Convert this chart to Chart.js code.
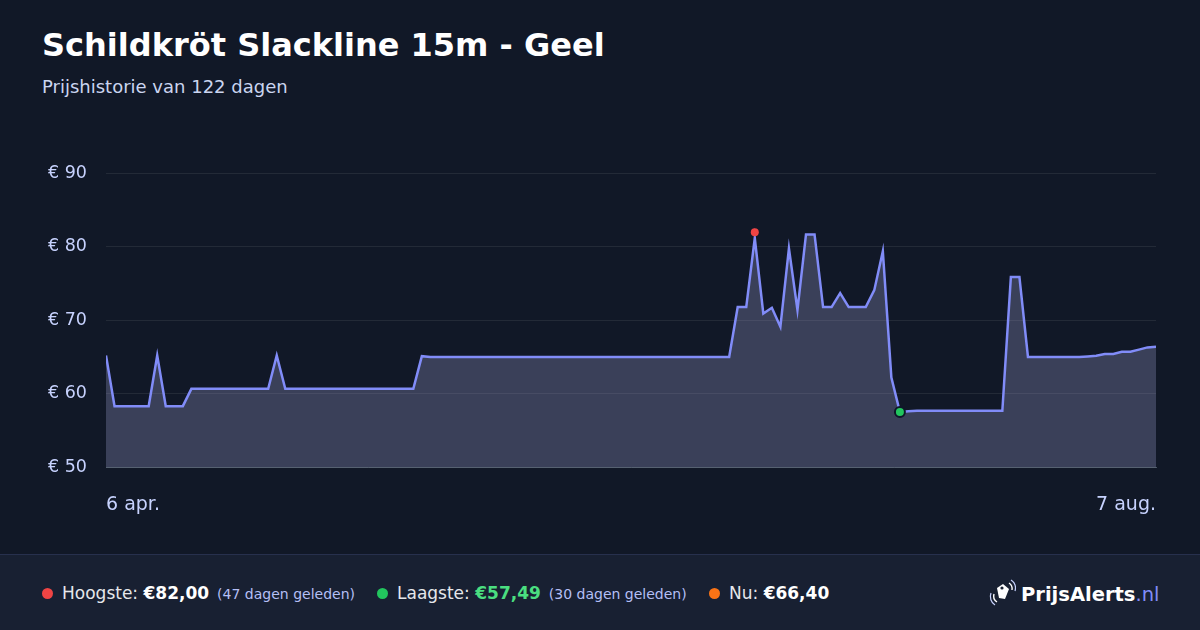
<!DOCTYPE html>
<html>
<head>
<meta charset="utf-8">
<script src="https://cdn.jsdelivr.net/npm/chart.js@4/dist/chart.umd.min.js"></script>
<style>
  html, body { margin: 0; padding: 0; }
  body {
    width: 1200px; height: 630px; overflow: hidden; position: relative;
    background: #111827; font-family: "DejaVu Sans", sans-serif;
  }
  .title { position: absolute; left: 42px; top: 26px; font-size: 32px; font-weight: bold; color: #fff; }
  .sub { position: absolute; left: 42px; top: 76px; font-size: 18px; color: #cbd5f0; }
  .chart-wrap { position: absolute; left: 40px; top: 144px; width: 1135px; height: 383px; }
  .footer {
    position: absolute; left: 0; top: 554px; width: 1200px; height: 76px;
    background: #182032; border-top: 1px solid #27304d; box-sizing: border-box;
  }
  .stat { position: absolute; top: 28px; font-size: 17px; color: #e5e7eb; white-space: nowrap; }
  .stat .dot { display: inline-block; width: 11px; height: 11px; border-radius: 50%; margin-right: 9px; vertical-align: 0px; }
  .stat b { color: #fff; }
  .stat small { font-size: 14px; color: #b4bff5; margin-left: 8px; }
  .logo { position: absolute; left: 988px; top: 24px; font-size: 19.5px; font-weight: bold; color: #fff; white-space: nowrap; }
  .logo svg { vertical-align: -6px; margin-right: 5px; }
  .logo span { font-weight: normal; color: #818cf8; }
</style>
</head>
<body>
  <div class="title">Schildkröt Slackline 15m - Geel</div>
  <div class="sub">Prijshistorie van 122 dagen</div>
  <div class="chart-wrap"><canvas id="priceChart"></canvas></div>

  <div class="footer">
    <div class="stat" style="left:42px"><span class="dot" style="background:#ef4444"></span>Hoogste: <b>€82,00</b><small>(47 dagen geleden)</small></div>
    <div class="stat" style="left:377px"><span class="dot" style="background:#22c55e"></span>Laagste: <b style="color:#4ade80">€57,49</b><small>(30 dagen geleden)</small></div>
    <div class="stat" style="left:709px"><span class="dot" style="background:#f97316"></span>Nu: <b>€66,40</b></div>
    <div class="logo">
      <svg width="28" height="28" viewBox="0 0 28 28">
        <path d="M9 9 L15 5 L21 10 L17 20 L11 19 Z" fill="#fff"/>
        <circle cx="14" cy="9" r="1.6" fill="#182032"/>
        <path d="M21 4 A7 7 0 0 1 24 11" stroke="#fff" stroke-width="1.4" fill="none"/>
        <path d="M23 1 A10 10 0 0 1 27 12" stroke="#c7d2fe" stroke-width="1.2" fill="none"/>
        <path d="M6 15 A7 7 0 0 0 9 23" stroke="#fff" stroke-width="1.4" fill="none"/>
        <path d="M3 14 A10 10 0 0 0 7 26" stroke="#c7d2fe" stroke-width="1.2" fill="none"/>
      </svg>PrijsAlerts<span>.nl</span>
    </div>
  </div>

<script>
// daily prices, 6 apr. -> 7 aug.
const prices = [
  65.19, 58.29, 58.29, 58.29, 58.29, 58.29, 65.19, 58.29, 58.29, 58.29,
  60.65, 60.65, 60.65, 60.65, 60.65, 60.65, 60.65, 60.65, 60.65, 60.65,
  65.19, 60.65, 60.65, 60.65, 60.65, 60.65, 60.65, 60.65, 60.65, 60.65,
  60.65, 60.65, 60.65, 60.65, 60.65, 60.65, 60.65, 65.1, 65.0, 65.0,
  65.0, 65.0, 65.0, 65.0, 65.0, 65.0, 65.0, 65.0, 65.0, 65.0,
  65.0, 65.0, 65.0, 65.0, 65.0, 64.98, 65.0, 65.0, 65.0, 65.0,
  65.0, 65.0, 65.0, 65.0, 65.0, 65.0, 65.0, 65.0, 65.0, 65.0,
  65.0, 65.0, 65.0, 65.0, 71.8, 71.8, 81.2, 70.9, 71.7, 69.1,
  79.8, 71.4, 81.7, 81.7, 71.8, 71.8, 73.7, 71.8, 71.8, 71.8,
  74.1, 79.4, 62.2, 57.49, 57.6, 57.65, 57.65, 57.65, 57.65, 57.65,
  57.65, 57.65, 57.65, 57.65, 57.65, 57.65, 75.9, 75.9, 65.0, 65.0,
  65.0, 65.0, 65.0, 65.0, 65.0, 65.07, 65.15, 65.4, 65.4, 65.7,
  65.7, 66.0, 66.3, 66.4
];
const xTickLabels = ['6 apr.', '7 aug.'];
const yTicks = [50, 60, 70, 80, 90];
const highPoint = { x: 76, y: 82.0 };
const lowPoint = { x: 93, y: 57.49 };

const lastIdx = prices.length - 1;

new Chart(document.getElementById('priceChart'), {
  type: 'line',
  data: {
    datasets: [
      {
        data: [highPoint, lowPoint],
        showLine: false,
        pointRadius: [4, 5],
        pointBackgroundColor: ['#ef4444', '#22c55e'],
        pointBorderColor: ['#ef4444', '#0f172a'],
        pointBorderWidth: [0, 2],
        order: 0,
      },
      {
        data: prices.map((y, i) => ({ x: i, y })),
        borderColor: '#818cf8',
        borderWidth: 2.5,
        backgroundColor: 'rgba(155, 158, 205, 0.3)',
        fill: 'start',
        tension: 0,
        pointRadius: 0,
        order: 1,
      },
    ],
  },
  options: {
    responsive: true,
    maintainAspectRatio: false,
    animation: false,
    layout: { padding: { top: 17, right: 4, left: 0, bottom: 0 } },
    plugins: { legend: { display: false }, tooltip: { enabled: false } },
    scales: {
      x: {
        type: 'linear',
        min: 0,
        max: lastIdx,
        afterBuildTicks: (s) => { s.ticks = [{ value: 0 }, { value: lastIdx }]; },
        afterFit: (s) => { s.height = 60; },
        ticks: {
          align: 'inner',
          maxRotation: 0,
          padding: 19,
          color: '#c7d2fe',
          font: { family: 'DejaVu Sans', size: 19 },
          callback: (v) => (v === 0 ? xTickLabels[0] : xTickLabels[1]),
        },
        grid: { display: false },
        border: { display: true, color: 'rgba(148, 163, 184, 0.45)', width: 1 },
      },
      y: {
        min: yTicks[0],
        max: yTicks[yTicks.length - 1],
        afterBuildTicks: (s) => { s.ticks = yTicks.map(v => ({ value: v })); },
        afterFit: (s) => { s.width = 66; },
        ticks: {
          padding: 19,
          color: '#c7d2fe',
          font: { family: 'DejaVu Sans', size: 17.5 },
          callback: (v) => '€ ' + v,
        },
        grid: { color: 'rgba(255, 255, 255, 0.08)', drawTicks: false },
        border: { display: false },
      },
    },
  },
});
</script>
</body>
</html>
